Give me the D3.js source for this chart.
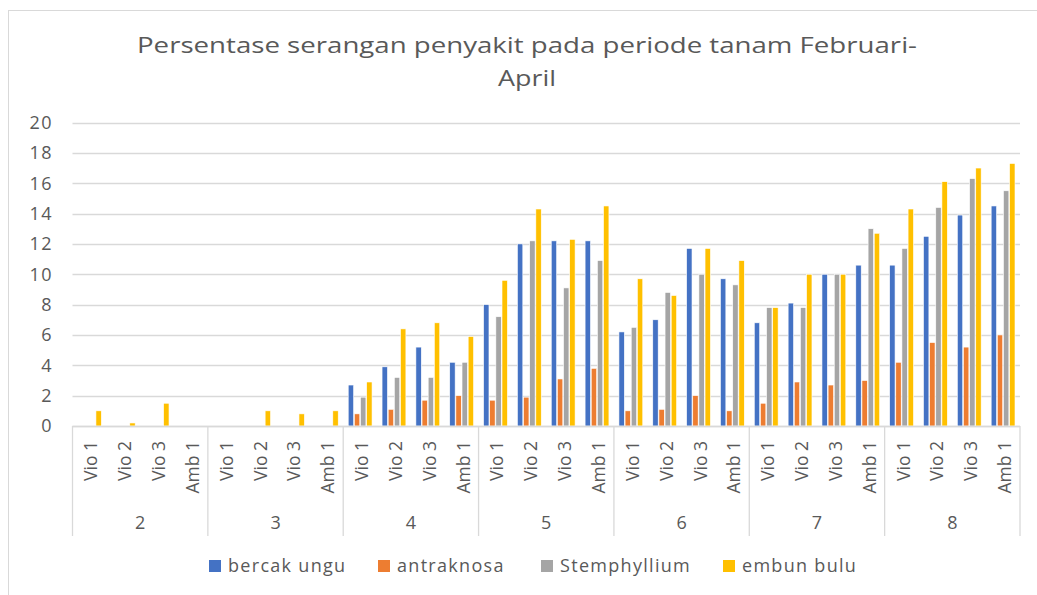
<!DOCTYPE html>
<html>
<head>
<meta charset="utf-8">
<script src="https://cdn.jsdelivr.net/npm/d3@7"></script>
<style>
  body { margin: 0; background: #fff; }
  svg text { font-family: "Open Sans", "Noto Sans", sans-serif; fill: #595959; }
</style>
</head>
<body>
<svg id="chart" width="1037" height="595"></svg>
<script>
// --- Data ---
const groups = ['2', '3', '4', '5', '6', '7', '8'];
const plots = ['Vio 1', 'Vio 2', 'Vio 3', 'Amb 1'];
const seriesNames = ['bercak ungu', 'antraknosa', 'Stemphyllium', 'embun bulu'];
const colors = ['#4472C4', '#ED7D31', '#A5A5A5', '#FFC000'];
const yTicks = [0, 2, 4, 6, 8, 10, 12, 14, 16, 18, 20];

// values per group, each row = Vio 1, Vio 2, Vio 3, Amb 1
const bercakUngu = [
  0, 0, 0, 0,
  0, 0, 0, 0,
  2.7, 3.9, 5.2, 4.2,
  8.0, 12.0, 12.2, 12.2,
  6.2, 7.0, 11.7, 9.7,
  6.8, 8.1, 10.0, 10.6,
  10.6, 12.5, 13.9, 14.5
];
const antraknosa = [
  0, 0, 0, 0,
  0, 0, 0, 0,
  0.8, 1.1, 1.7, 2.0,
  1.7, 1.9, 3.1, 3.8,
  1.0, 1.1, 2.0, 1.0,
  1.5, 2.9, 2.7, 3.0,
  4.2, 5.5, 5.2, 6.0
];
const stemphyllium = [
  0, 0, 0, 0,
  0, 0, 0, 0,
  1.9, 3.2, 3.2, 4.2,
  7.2, 12.2, 9.1, 10.9,
  6.5, 8.8, 10.0, 9.3,
  7.8, 7.8, 10.0, 13.0,
  11.7, 14.4, 16.3, 15.5
];
const embunBulu = [
  1.0, 0.2, 1.5, 0,
  0, 1.0, 0.8, 1.0,
  2.9, 6.4, 6.8, 5.9,
  9.6, 14.3, 12.3, 14.5,
  9.7, 8.6, 11.7, 10.9,
  7.8, 10.0, 10.0, 12.7,
  14.3, 16.1, 17.0, 17.3
];
const seriesValues = [bercakUngu, antraknosa, stemphyllium, embunBulu];

// --- Layout ---
const svg = d3.select('#chart');
const plotLeft = 72.5, plotRight = 1020, plotTop = 122.5, plotBottom = 426;

// outer chart border
svg.append('rect')
  .attr('x', 8.5).attr('y', 10.5).attr('width', 1040).attr('height', 600)
  .attr('fill', 'none').attr('stroke', '#d9d9d9');

// title (the original is a bit stretched sideways, so fit the width)
const title = svg.append('text')
  .attr('text-anchor', 'middle')
  .style('font-size', '21.5px');
title.append('tspan').attr('x', 527).attr('y', 53)
  .attr('textLength', 780).attr('lengthAdjust', 'spacingAndGlyphs')
  .text('Persentase serangan penyakit pada periode tanam Februari-');
title.append('tspan').attr('x', 527).attr('y', 86)
  .attr('textLength', 58).attr('lengthAdjust', 'spacingAndGlyphs')
  .text('April');

const cats = [];
groups.forEach(g => plots.forEach(p => cats.push(g + '|' + p)));

const x0 = d3.scaleBand().domain(cats).range([plotLeft, plotRight]).padding(0);
const xg = d3.scaleBand().domain(groups).range([plotLeft, plotRight]).padding(0);
const x1 = d3.scaleBand().domain(d3.range(seriesNames.length))
  .range([5, x0.bandwidth() - 5]).paddingInner(0.12);
const y = d3.scaleLinear().domain([0, 20]).range([plotBottom, plotTop]);

// gridlines
svg.append('g')
  .selectAll('line')
  .data(yTicks)
  .join('line')
  .attr('x1', plotLeft).attr('x2', plotRight)
  .attr('y1', d => Math.round(y(d)) + 0.5).attr('y2', d => Math.round(y(d)) + 0.5)
  .attr('stroke', '#d9d9d9').attr('stroke-width', 1.3);

// y labels
svg.append('g')
  .selectAll('text')
  .data(yTicks)
  .join('text')
  .attr('x', 53).attr('y', d => y(d)).attr('dy', '0.35em')
  .attr('text-anchor', 'end')
  .style('font-size', '18px')
  .style('letter-spacing', '1.5px')
  .text(d => d);

// bars
const barData = [];
cats.forEach((c, i) => {
  seriesValues.forEach((vals, s) => barData.push({ cat: c, s, v: vals[i] }));
});
svg.append('g')
  .selectAll('rect')
  .data(barData.filter(d => d.v > 0))
  .join('rect')
  .attr('x', d => x0(d.cat) + x1(d.s))
  .attr('width', x1.bandwidth())
  .attr('y', d => y(d.v))
  .attr('height', d => y(0) - y(d.v))
  .attr('fill', d => colors[d.s])
  .attr('stroke', '#fff').attr('stroke-width', 0.6);

// x axis line + separators
svg.append('line')
  .attr('x1', plotLeft).attr('x2', plotRight).attr('y1', plotBottom + 0.5).attr('y2', plotBottom + 0.5)
  .attr('stroke', '#d9d9d9').attr('stroke-width', 1.3);
const seps = groups.map(g => xg(g)).concat([plotRight]);
svg.append('g')
  .selectAll('line')
  .data(seps)
  .join('line')
  .attr('x1', d => d).attr('x2', d => d)
  .attr('y1', plotBottom).attr('y2', 536)
  .attr('stroke', '#d9d9d9').attr('stroke-width', 1.3);

// category labels (rotated)
svg.append('g')
  .selectAll('text')
  .data(cats)
  .join('text')
  .attr('transform', d => `translate(${x0(d) + x0.bandwidth() / 2 + 8},441) rotate(-90)`)
  .attr('text-anchor', 'end')
  .style('font-size', '17.5px')
  .text(d => d.split('|')[1]);

// group labels
svg.append('g')
  .selectAll('text')
  .data(groups)
  .join('text')
  .attr('x', d => xg(d) + xg.bandwidth() / 2)
  .attr('y', 529)
  .attr('text-anchor', 'middle')
  .style('font-size', '18px')
  .text(d => d);

// legend
const legendX = [209, 378, 541, 723];
const legend = svg.append('g')
  .selectAll('g')
  .data(seriesNames)
  .join('g')
  .attr('transform', (d, i) => `translate(${legendX[i]},560)`);
legend.append('rect')
  .attr('width', 12).attr('height', 12)
  .attr('fill', (d, i) => colors[i]);
legend.append('text')
  .attr('x', 19).attr('y', 6).attr('dy', '0.35em')
  .style('font-size', '18px')
  .style('letter-spacing', '1.3px')
  .text(d => d);
</script>
</body>
</html>
